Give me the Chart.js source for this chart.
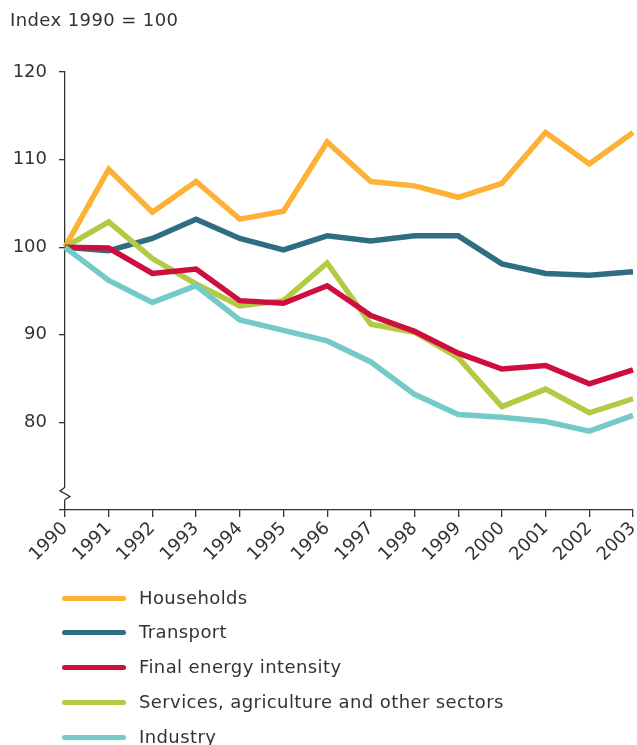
<!DOCTYPE html>
<html>
<head>
<meta charset="utf-8">
<script src="https://cdn.jsdelivr.net/npm/chart.js@4"></script>
<style>
  html, body { margin: 0; padding: 0; background: #fff; }
  body { width: 637px; height: 745px; position: relative; overflow: hidden; font-family: "DejaVu Sans", Verdana, sans-serif; color: #333; }
  #title { position: absolute; left: 10px; top: 9px; font-size: 18px; letter-spacing: 0.4px; white-space: nowrap; }
  #wrap { position: absolute; left: 0; top: 0; width: 637px; height: 590px; }
  #legend { position: absolute; left: 0; top: 0; width: 637px; }
  .item { position: absolute; left: 62px; height: 20px; white-space: nowrap; }
  .swatch { position: absolute; left: 0; top: 8px; width: 64px; height: 5px; border-radius: 3px; }
  .lab { position: absolute; left: 77px; top: -1px; font-size: 18px; letter-spacing: 0.4px; line-height: 22px; color: #333; }
</style>
</head>
<body>
<div id="wrap"><canvas id="c" width="637" height="590"></canvas></div>
<div id="title">Index 1990 = 100</div>
<div id="legend"></div>
<script>
const years = ["1990","1991","1992","1993","1994","1995","1996","1997","1998","1999","2000","2001","2002","2003"];
const households = [100, 108.9, 104.0, 107.5, 103.2, 104.1, 112.0, 107.5, 107.0, 105.7, 107.3, 113.1, 109.5, 113.1];
const transport  = [100, 99.6, 101.0, 103.2, 101.0, 99.7, 101.3, 100.7, 101.3, 101.3, 98.1, 97.0, 96.8, 97.2];
const finalIntensity = [100, 99.9, 97.0, 97.5, 93.9, 93.6, 95.6, 92.2, 90.4, 87.9, 86.1, 86.5, 84.4, 86.0];
const services   = [100, 102.9, 98.7, 95.8, 93.3, 93.9, 98.2, 91.2, 90.3, 87.4, 81.8, 83.8, 81.1, 82.7];
const industry   = [100, 96.2, 93.7, 95.6, 91.7, 90.5, 89.3, 86.9, 83.2, 80.9, 80.6, 80.1, 79.0, 80.8];
const seriesNames = ["Households", "Transport", "Final energy intensity", "Services, agriculture and other sectors", "Industry"];
const seriesColors = ["#FDB137", "#2F6E82", "#CF0E40", "#B4C944", "#73CAC6"];
const yTickValues = [70, 80, 90, 100, 110, 120];

const seriesData = [households, transport, finalIntensity, services, industry];
const drawOrder = [4, 2, 3, 1, 0];

const datasets = drawOrder.map(i => ({
  label: seriesNames[i],
  data: seriesData[i],
  borderColor: seriesColors[i],
  backgroundColor: seriesColors[i],
  borderWidth: 5.5,
  pointRadius: 0,
  tension: 0,
  borderJoinStyle: 'miter',
  borderCapStyle: 'butt',
  fill: false
}));

const axisBreak = {
  id: 'axisBreak',
  afterDraw(chart) {
    const ctx = chart.ctx;
    const ys = chart.scales.y;
    const x = ys.right;
    const yTop = ys.getPixelForValue(72.6);
    const yBot = ys.getPixelForValue(71.2);
    ctx.save();
    ctx.fillStyle = '#fff';
    ctx.fillRect(x - 2, yTop, 4, yBot - yTop);
    ctx.strokeStyle = '#333';
    ctx.lineWidth = 1.3;
    ctx.beginPath();
    ctx.moveTo(x, yTop);
    ctx.lineTo(x - 5, yTop + (yBot - yTop) * 0.3);
    ctx.lineTo(x + 5, yTop + (yBot - yTop) * 0.75);
    ctx.lineTo(x, yBot);
    ctx.stroke();
    ctx.restore();
  }
};

const chart = new Chart(document.getElementById('c'), {
  type: 'line',
  data: { labels: years, datasets },
  plugins: [axisBreak],
  options: {
    responsive: false,
    animation: false,
    devicePixelRatio: 1,
    layout: { padding: { top: 72, right: 4, left: 0, bottom: 0 } },
    plugins: { legend: { display: false }, tooltip: { enabled: false }, title: { display: false } },
    scales: {
      x: {
        type: 'category',
        offset: false,
        grid: { display: true, drawOnChartArea: false, drawTicks: true, tickLength: 7, tickColor: '#333', lineWidth: 1.3 },
        border: { display: true, color: '#333', width: 1.3 },
        ticks: { color: '#333', font: { family: 'DejaVu Sans', size: 18 }, maxRotation: 45, minRotation: 45, padding: 1, autoSkip: false },
        afterFit(s) { s.height = 80; s.paddingRight = 0; s.paddingLeft = 0; }
      },
      y: {
        min: 70, max: 120,
        afterBuildTicks(s) { s.ticks = yTickValues.map(v => ({ value: v })); },
        grid: { display: true, drawOnChartArea: false, drawTicks: true, tickLength: 6, tickColor: '#333', lineWidth: 1.3 },
        border: { display: true, color: '#333', width: 1.3 },
        ticks: { color: '#333', font: { family: 'DejaVu Sans', size: 18 }, padding: 12,
          callback: (v) => (v === 70 ? '' : v) },
        afterFit(s) { s.width = 65; s.paddingTop = 0; s.paddingBottom = 0; }
      }
    }
  }
});

const legend = document.getElementById('legend');
const rowTops = [588, 622, 657, 692, 727];
seriesNames.forEach((name, i) => {
  const d = document.createElement('div');
  d.className = 'item';
  d.style.top = rowTops[i] + 'px';
  const sw = document.createElement('div');
  sw.className = 'swatch';
  sw.style.background = seriesColors[i];
  const t = document.createElement('div');
  t.className = 'lab';
  t.textContent = name;
  d.appendChild(sw); d.appendChild(t);
  legend.appendChild(d);
});
</script>
</body>
</html>
